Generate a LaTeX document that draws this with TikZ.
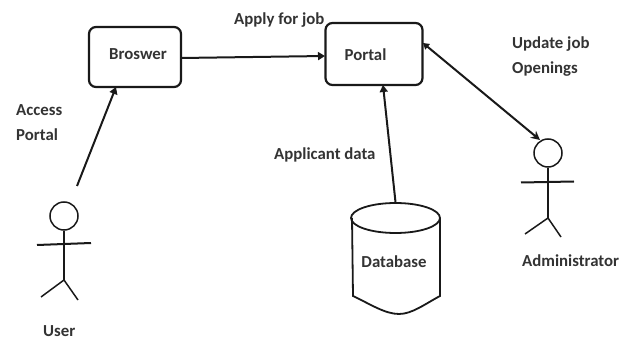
\documentclass[tikz,border=0pt]{standalone}
\usepackage{fontspec}
\setmainfont{Carlito}
\usetikzlibrary{arrows.meta,shapes.geometric}
\tikzset{
  procbox/.style={draw=black!90,line width=2.2pt,rounded corners=7pt,inner sep=0pt},
  lbl/.style={font=\bfseries\fontsize{16.8}{25}\selectfont,text=black!80,inner sep=0pt},
  multi/.style={align=left},
  conn/.style={draw=black!90,line width=2pt,-{Triangle[length=7pt,width=8pt]}},
  biconn/.style={draw=black!90,line width=2pt,{Triangle[length=6pt,width=7pt]}-{Stealth[length=9pt,width=9pt]}},
  stick/.style={draw=black!90,line width=1.5pt},
  head/.style={circle,draw=black!90,line width=1.5pt,minimum size=28pt,inner sep=0pt},
  dbtop/.style={ellipse,draw=black!90,line width=1.8pt,minimum width=89pt,minimum height=30pt,inner sep=0pt}
}
\begin{document}
\begin{tikzpicture}[x=1pt,y=-1pt]
\useasboundingbox (0,0) rectangle (630,342);
% boxes
\node[procbox,minimum width=92pt,minimum height=60pt] (browser) at (135,57) {};
\node[procbox,minimum width=97pt,minimum height=62pt] (portal) at (374,54) {};
\node[lbl,anchor=center] (browserlbl) at (138,54) {Broswer};
\node[lbl,anchor=center] (portallbl) at (365.5,55) {Portal};
% database
\draw[stick,line width=1.8pt] (352,218) -- (353,296) .. controls (370,304) and (385,314) .. (399,314) .. controls (412,314) and (425,304) .. (440,296) -- (440,218);
\node[dbtop] (db) at (395.5,218) {};
\node[lbl] (dblbl) at (394,262) {Database};
% user actor
\node[head] (userhead) at (64,216) {};
\coordinate (userhip) at (64,280);
\coordinate (userla) at (37,245);
\coordinate (userra) at (91,243);
\coordinate (userll) at (41,297);
\coordinate (userrl) at (78,300);
\draw[stick] (userhead.south) -- (userhip);
\draw[stick,line width=2pt] (userla) -- (userra);
\draw[stick] (userll) -- (userhip) -- (userrl);
% admin actor
\node[head] (adminhead) at (548,153) {};
\coordinate (adminhip) at (548,218);
\coordinate (adminla) at (521,182.5);
\coordinate (adminra) at (574,181.5);
\coordinate (adminll) at (525,234);
\coordinate (adminrl) at (561,237);
\draw[stick] (adminhead.south) -- (adminhip);
\draw[stick,line width=2pt] (adminla) -- (adminra);
\draw[stick] (adminll) -- (adminhip) -- (adminrl);
% connectors
\coordinate (userstart) at (77,186);
\coordinate (browserin) at (116,87);
\coordinate (browserout) at (181,58);
\coordinate (portalin) at (325,56);
\coordinate (portaldb) at (383,85);
\coordinate (portaladmin) at (423,43);
\coordinate (adminin) at (540,140);
\draw[conn] (userstart) -- (browserin);
\draw[conn] (browserout) -- (portalin);
\draw[conn] (db.north) -- (portaldb);
\draw[biconn] (portaladmin) -- (adminin);
% labels
\node[lbl,anchor=west] (apply) at (234,20) {Apply for job};
\node[lbl,multi,anchor=west] (access) at (16,122.5) {Access\\Portal};
\node[lbl,anchor=west] (appdata) at (274,155) {Applicant data};
\node[lbl,multi,anchor=west] (update) at (512,57) {Update job\\Openings};
\node[lbl,anchor=west] (admin) at (522,261) {Administrator};
\node[lbl,anchor=west] (user) at (43,331) {User};
\end{tikzpicture}
\end{document}
